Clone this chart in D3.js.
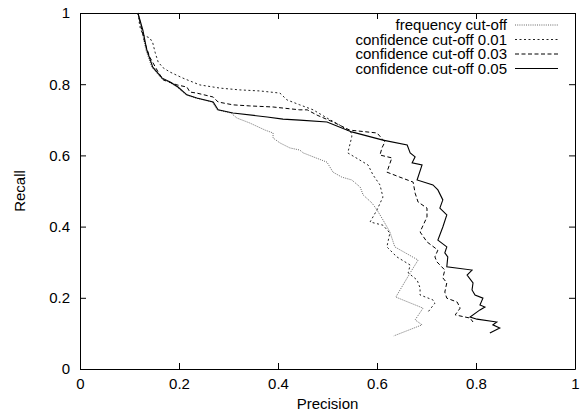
<!DOCTYPE html>
<html>
<head>
<meta charset="utf-8">
<script src="https://cdn.jsdelivr.net/npm/d3@7"></script>
<style>
  body { margin: 0; background: #fff; }
  svg { display: block; }
  text { font-family: "Liberation Sans", Arial, sans-serif; font-size: 15px; fill: #000; }
</style>
</head>
<body>
<svg id="chart" width="581" height="413"></svg>
<script>
// [precision, recall] pairs
var freqCutoff = [
  [0.117,1.0],[0.125,0.952],[0.133,0.896],[0.145,0.848],[0.164,0.817],[0.180,0.806],
  [0.196,0.792],[0.214,0.770],[0.234,0.761],[0.267,0.750],[0.277,0.728],[0.305,0.719],
  [0.317,0.705],[0.343,0.691],[0.374,0.671],[0.390,0.663],[0.390,0.649],[0.404,0.635],
  [0.424,0.621],[0.444,0.615],[0.451,0.607],[0.471,0.596],[0.499,0.581],[0.511,0.553],
  [0.529,0.539],[0.549,0.531],[0.566,0.511],[0.572,0.489],[0.590,0.466],[0.600,0.447],
  [0.612,0.419],[0.626,0.385],[0.636,0.343],[0.683,0.306],[0.667,0.270],[0.638,0.202],
  [0.693,0.171],[0.677,0.138],[0.691,0.124],[0.634,0.093]
];
var conf001 = [
  [0.117,1.0],[0.121,0.961],[0.127,0.938],[0.141,0.930],[0.147,0.916],[0.152,0.888],
  [0.158,0.862],[0.168,0.846],[0.182,0.834],[0.208,0.817],[0.242,0.798],[0.283,0.789],
  [0.323,0.784],[0.364,0.781],[0.404,0.775],[0.418,0.756],[0.444,0.742],[0.471,0.728],
  [0.499,0.705],[0.525,0.685],[0.549,0.663],[0.549,0.652],[0.541,0.607],[0.582,0.573],
  [0.592,0.545],[0.606,0.517],[0.612,0.483],[0.600,0.447],[0.586,0.413],[0.612,0.404],
  [0.626,0.382],[0.620,0.343],[0.640,0.315],[0.667,0.292],[0.663,0.270],[0.681,0.250],
  [0.687,0.228],[0.687,0.208],[0.713,0.194],[0.717,0.185],[0.703,0.160]
];
var conf003 = [
  [0.117,1.0],[0.125,0.952],[0.131,0.916],[0.141,0.876],[0.158,0.834],[0.168,0.812],
  [0.196,0.798],[0.216,0.792],[0.222,0.778],[0.236,0.775],[0.269,0.764],[0.279,0.750],
  [0.309,0.742],[0.343,0.739],[0.390,0.736],[0.410,0.733],[0.444,0.728],[0.459,0.728],
  [0.479,0.713],[0.511,0.694],[0.545,0.671],[0.600,0.663],[0.616,0.638],[0.610,0.621],
  [0.606,0.601],[0.630,0.593],[0.620,0.553],[0.646,0.539],[0.673,0.525],[0.677,0.494],
  [0.683,0.469],[0.701,0.452],[0.701,0.427],[0.687,0.385],[0.701,0.357],[0.723,0.334],
  [0.717,0.315],[0.721,0.301],[0.737,0.278],[0.733,0.256],[0.741,0.242],[0.737,0.216],
  [0.741,0.199],[0.762,0.188],[0.768,0.171],[0.758,0.152],[0.788,0.143],[0.794,0.132]
];
var conf005 = [
  [0.117,1.0],[0.127,0.952],[0.135,0.896],[0.147,0.848],[0.166,0.817],[0.182,0.806],
  [0.198,0.792],[0.216,0.770],[0.236,0.761],[0.269,0.750],[0.279,0.728],[0.309,0.719],
  [0.378,0.708],[0.410,0.702],[0.444,0.699],[0.499,0.694],[0.549,0.666],[0.612,0.643],
  [0.661,0.629],[0.667,0.607],[0.677,0.596],[0.671,0.579],[0.691,0.573],[0.681,0.531],
  [0.713,0.517],[0.723,0.503],[0.733,0.475],[0.727,0.452],[0.741,0.433],[0.733,0.399],
  [0.723,0.362],[0.741,0.343],[0.737,0.326],[0.743,0.315],[0.741,0.287],[0.792,0.278],
  [0.782,0.264],[0.794,0.242],[0.792,0.222],[0.798,0.208],[0.814,0.199],[0.808,0.180],
  [0.818,0.174],[0.808,0.166],[0.788,0.146],[0.802,0.140],[0.842,0.132],[0.834,0.124],
  [0.848,0.115],[0.828,0.101]
];
var seriesNames = ["frequency cut-off", "confidence cut-off 0.01", "confidence cut-off 0.03", "confidence cut-off 0.05"];
var xTicks = [0, 0.2, 0.4, 0.6, 0.8, 1];
var yTicks = [0, 0.2, 0.4, 0.6, 0.8, 1];

var series = [freqCutoff, conf001, conf003, conf005];
var styles = [
  {stroke: "#666", dash: "1,1.2", width: 1},
  {stroke: "#222", dash: "2,2.5", width: 1},
  {stroke: "#000", dash: "4,2.5", width: 1},
  {stroke: "#000", dash: null, width: 1.1}
];

var plotLeft = 80, plotRight = 575, plotTop = 13, plotBottom = 369;
var svg = d3.select("#chart");

var x = d3.scaleLinear().domain([0, 1]).range([plotLeft, plotRight]);
var y = d3.scaleLinear().domain([0, 1]).range([plotBottom, plotTop]);
var fmt = d3.format("~g");

svg.append("g").attr("transform", "translate(0," + plotBottom + ")")
  .call(d3.axisBottom(x).tickValues(xTicks).tickFormat(fmt).tickSizeInner(-6).tickSizeOuter(0).tickPadding(9));
svg.append("g").attr("transform", "translate(0," + plotTop + ")")
  .call(d3.axisTop(x).tickValues(xTicks).tickFormat("").tickSizeInner(-6).tickSizeOuter(0));
svg.append("g").attr("transform", "translate(" + plotLeft + ",0)")
  .call(d3.axisLeft(y).tickValues(yTicks).tickFormat(fmt).tickSizeInner(-6).tickSizeOuter(0).tickPadding(10));
svg.append("g").attr("transform", "translate(" + plotRight + ",0)")
  .call(d3.axisRight(y).tickValues(yTicks).tickFormat("").tickSizeInner(-6).tickSizeOuter(0));

svg.selectAll(".tick text").style("font-family", "'Liberation Sans', Arial, sans-serif").style("font-size", "15px");
svg.selectAll(".domain, .tick line").attr("stroke", "#000");

svg.append("text").attr("x", (plotLeft + plotRight) / 2).attr("y", 409)
  .attr("text-anchor", "middle").text("Precision");
svg.append("text").attr("transform", "translate(25," + ((plotTop + plotBottom) / 2) + ") rotate(-90)")
  .attr("text-anchor", "middle").text("Recall");

var line = d3.line().x(function(d){ return x(d[0]); }).y(function(d){ return y(d[1]); });

series.forEach(function(data, i){
  svg.append("path").datum(data)
    .attr("d", line)
    .attr("fill", "none")
    .attr("stroke", styles[i].stroke)
    .attr("stroke-width", styles[i].width)
    .attr("stroke-dasharray", styles[i].dash);
});

// legend
var legend = svg.append("g");
seriesNames.forEach(function(name, i){
  var cy = 25 + i * 14.5;
  legend.append("text").attr("x", 507).attr("y", cy).attr("dy", "0.35em")
    .attr("text-anchor", "end").text(name);
  legend.append("line").attr("x1", 515).attr("x2", 558).attr("y1", cy).attr("y2", cy)
    .attr("stroke", styles[i].stroke)
    .attr("stroke-width", styles[i].width)
    .attr("stroke-dasharray", styles[i].dash);
});
</script>
</body>
</html>
